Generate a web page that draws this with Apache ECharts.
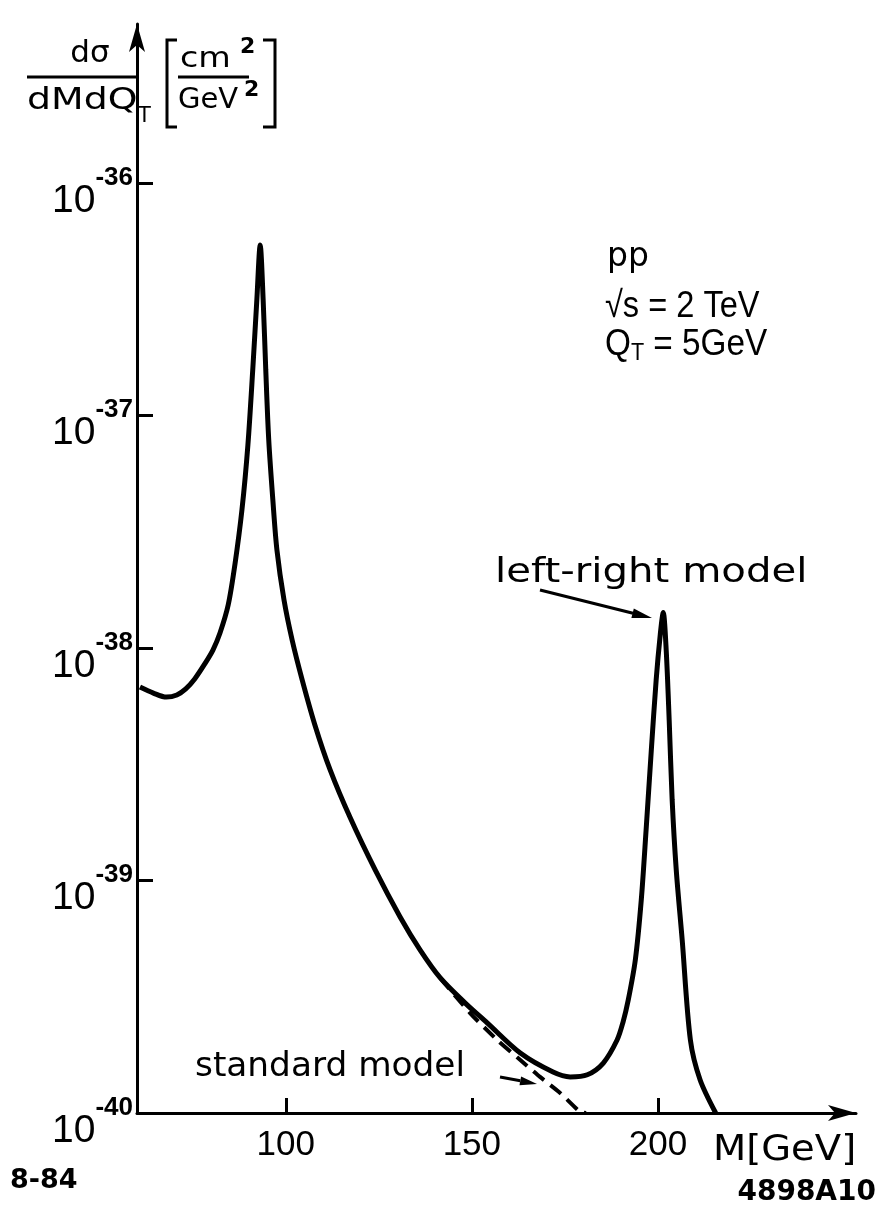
<!DOCTYPE html>
<html>
<head>
<meta charset="utf-8">
<script src="https://cdn.jsdelivr.net/npm/echarts@6/dist/echarts.min.js"></script>
<style>
  html, body { margin: 0; background: #fff; }
  #chart { width: 885px; height: 1215px; }
</style>
</head>
<body>
<div id="chart"></div>
<script>
// invariant mass M [GeV] and d sigma / dM dQT [cm^2/GeV^2], left-right model (solid)
const massLR = [60.8, 64.4, 67.9, 70.7, 73.1, 75.5, 78.2, 80.4, 82.3, 84.5, 86.3, 88.2, 89.8, 91.1, 92.2, 93.1,
  93.9, 94.6, 95.4, 96.5, 97.6, 99.5, 101.7, 104.4, 107.8, 111.9, 117.3, 124.0, 130.7, 136.1, 141.5, 148.2,
  154.1, 163.0, 171.8, 176.4, 181.0, 185.3, 189.0, 190.6, 192.0, 193.9, 195.5, 196.8, 198.2, 199.5, 200.6,
  201.4, 202.2, 203.0, 203.8, 204.9, 206.5, 208.7, 211.3, 215.5];
const sigmaLR = [6.79e-39, 6.40e-39, 6.15e-39, 6.28e-39, 6.67e-39, 7.36e-39, 8.54e-39, 9.80e-39, 1.16e-38,
  1.53e-38, 2.28e-38, 3.93e-38, 7.47e-38, 1.57e-37, 3.14e-37, 5.41e-37,
  3.14e-37, 1.57e-37, 7.85e-38, 4.34e-38, 2.64e-38, 1.61e-38, 1.08e-38, 7.28e-39, 4.67e-39, 2.99e-39,
  1.86e-39, 1.11e-39, 6.97e-40, 5.02e-40, 3.81e-40, 2.97e-40,
  2.44e-40, 1.81e-40, 1.50e-40, 1.43e-40, 1.46e-40, 1.64e-40, 2.06e-40, 2.46e-40, 3.06e-40, 4.55e-40,
  8.24e-40, 1.65e-39, 3.64e-39, 7.28e-39, 1.14e-38,
  1.42e-38, 9.80e-39, 4.90e-39, 2.22e-39, 1.11e-39, 5.54e-40, 2.06e-40, 1.39e-40, 1.0e-40];

// standard model (dashed), where it leaves the solid curve
const massSM = [141.5, 149.5, 156.8, 163.0, 168.3, 173.7, 179.1, 180.7];
const sigmaSM = [3.81e-40, 2.69e-40, 2.06e-40, 1.69e-40, 1.43e-40, 1.22e-40, 1.01e-40, 1.0e-40];

const massTicks = [100, 150, 200];
const sigmaMin = 1e-40;
const sigmaTopTick = 1e-36;
const sigmaAxisTop = 4.83e-36;

// echarts rounds log ticks to 10 decimals, so plot in units of 1e-40 cm^2/GeV^2
const unit = 1e-40;
const unitExp = Math.round(Math.log10(unit));

const chart = echarts.init(document.getElementById('chart'));

const zip = (xs, ys) => xs.map((x, i) => [x, ys[i] / unit]);
const black = '#000';
const font = 'DejaVu Sans';
const font2 = 'Liberation Sans';

const txt = (x, y, text, size, extra = {}) => ({
  type: 'text',
  x,
  y,
  scaleX: extra.scaleX || 1,
  style: Object.assign({
    text,
    fill: black,
    fontSize: size,
    fontFamily: extra.family || font,
    fontWeight: extra.weight || 'normal',
    align: extra.align || 'left',
    verticalAlign: 'middle',
  }, extra.style || {}),
});
const seg = (x1, y1, x2, y2, w = 3) => ({
  type: 'line',
  shape: { x1, y1, x2, y2 },
  style: { stroke: black, lineWidth: w },
});
const arrowHead = pts => ({ type: 'polygon', shape: { points: pts }, style: { fill: black } });

const option = {
  backgroundColor: '#fff',
  animation: false,
  grid: [
    // main plotting area (axis lines end in arrows)
    { left: 137, top: 24, width: 719, height: 1089, containLabel: false, outerBoundsMode: 'none' },
    // tick area: 100..200 GeV, 1e-40..1e-36
    { left: 285.8, top: 183, width: 372.1, height: 930, containLabel: false, outerBoundsMode: 'none' },
  ],
  xAxis: [
    {
      gridIndex: 0,
      type: 'value',
      min: 60,
      max: 253.2,
      axisLine: { show: true, symbol: ['none', 'arrow'], symbolSize: [12, 28], lineStyle: { color: black, width: 3 } },
      axisTick: { show: false },
      axisLabel: { show: false },
      splitLine: { show: false },
    },
    {
      gridIndex: 1,
      type: 'value',
      min: massTicks[0],
      max: massTicks[massTicks.length - 1],
      interval: 50,
      axisLine: { show: false },
      axisTick: { show: true, inside: true, length: 15, lineStyle: { color: black, width: 3 } },
      axisLabel: { color: black, fontSize: 35, fontFamily: font2, margin: 15 },
      splitLine: { show: false },
    },
  ],
  yAxis: [
    {
      gridIndex: 0,
      type: 'log',
      logBase: 10,
      min: sigmaMin / unit,
      max: sigmaAxisTop / unit,
      axisLine: { show: true, symbol: ['none', 'arrow'], symbolSize: [12, 28], lineStyle: { color: black, width: 3 } },
      axisTick: { show: false },
      axisLabel: { show: false },
      splitLine: { show: false },
    },
    {
      gridIndex: 1,
      type: 'log',
      logBase: 10,
      min: sigmaMin / unit,
      max: sigmaTopTick / unit,
      offset: 148.8,
      axisLine: { show: false },
      axisTick: { show: true, inside: true, length: 16, lineStyle: { color: black, width: 3 } },
      axisLabel: {
        margin: 4,
        padding: [19, 0, 0, 0],
        formatter: v => `{b|10}{s|${Math.round(Math.log10(v)) + unitExp}}`,
        rich: {
          b: { fontSize: 39, fontFamily: font2, color: black, verticalAlign: 'bottom' },
          s: { fontSize: 26, fontFamily: font2, fontWeight: 'bold', color: black, verticalAlign: 'bottom', padding: [0, 0, 30, 0] },
        },
      },
      splitLine: { show: false },
    },
  ],
  series: [
    {
      name: 'left-right model',
      type: 'line',
      xAxisIndex: 0,
      yAxisIndex: 0,
      data: zip(massLR, sigmaLR),
      showSymbol: false,
      smooth: 0.3,
      lineStyle: { color: black, width: 5 },
      z: 3,
    },
    {
      name: 'standard model',
      type: 'line',
      xAxisIndex: 0,
      yAxisIndex: 0,
      data: zip(massSM, sigmaSM),
      showSymbol: false,
      smooth: 0.2,
      lineStyle: { color: black, width: 4, type: [14, 8] },
      z: 2,
    },
  ],
  graphic: [
    // y axis title: d sigma / dM dQT [cm^2 / GeV^2]
    txt(90, 54, 'dσ', 31, { align: 'center' }),
    seg(27, 77, 137, 77),
    txt(27, 101, 'dMdQ', 31, { scaleX: 1.22 }),
    txt(138, 117, 'T', 21),
    { type: 'polyline', shape: { points: [[177, 40], [167, 40], [167, 127], [177, 127]] }, style: { stroke: black, lineWidth: 3, fill: null } },
    txt(180, 59, 'cm', 29, { scaleX: 1.15 }),
    txt(240, 47, '2', 22, { weight: 'bold' }),
    seg(178, 77, 249, 77),
    txt(178, 100, 'GeV', 29),
    txt(244, 90, '2', 22, { weight: 'bold' }),
    { type: 'polyline', shape: { points: [[263, 40], [275, 40], [275, 127], [263, 127]] }, style: { stroke: black, lineWidth: 3, fill: null } },

    // conditions
    txt(607, 257, 'pp', 33),
    txt(605, 307, '√s = 2 TeV', 37, { family: font2, scaleX: 0.88 }),
    txt(605, 345, '{a|Q}{t|T}{a| = 5GeV}', 37, {
      family: font2,
      scaleX: 0.9,
      style: {
        rich: {
          a: { fontSize: 37, fontFamily: font2, fill: black },
          t: { fontSize: 24, fontFamily: font2, fill: black, padding: [16, 0, 0, 0] },
        },
      },
    }),

    // curve labels
    txt(495, 573, 'left-right model', 33, { scaleX: 1.22 }),
    seg(540, 590, 633, 613.2),
    arrowHead([[652, 618], [631.4, 618.1], [633.8, 608.4]]),
    txt(195, 1067, 'standard model', 33, { scaleX: 1.04 }),
    seg(500, 1077, 520.3, 1080.8),
    arrowHead([[537, 1084], [519.5, 1085.2], [521.1, 1076.4]]),

    // x axis name, figure ids
    txt(713, 1151, 'M[GeV]', 36, { scaleX: 1.07 }),
    txt(10, 1181, '8-84', 27, { weight: 'bold' }),
    txt(876, 1193, '4898A10', 28, { weight: 'bold', align: 'right' }),
  ],
};

chart.setOption(option);
</script>
</body>
</html>
